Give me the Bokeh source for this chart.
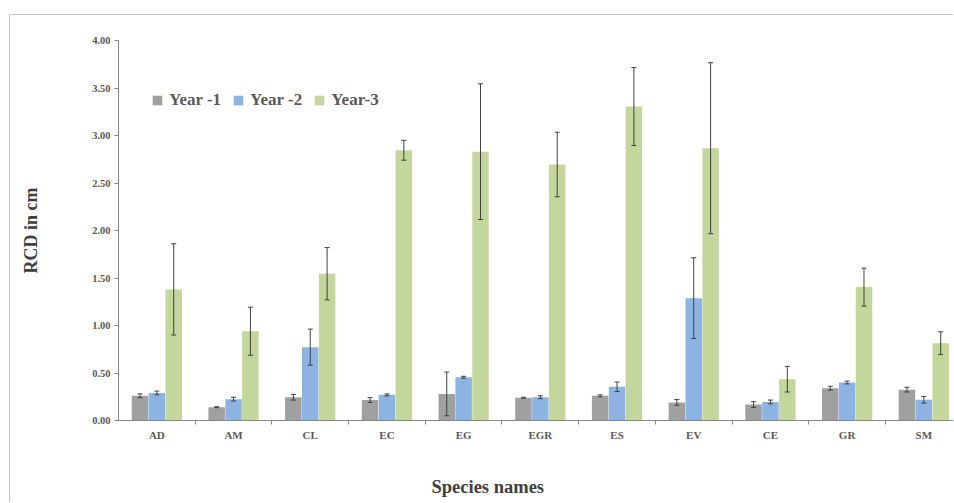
from bokeh.plotting import figure
from bokeh.models import (ColumnDataSource, Range1d, FixedTicker, SingleIntervalTicker,
                          NumeralTickFormatter, Whisker, TeeHead, Legend, LegendItem,
                          Title)
from bokeh.embed import file_html
from bokeh.resources import INLINE

species = ["AD", "AM", "CL", "EC", "EG", "EGR", "ES", "EV", "CE", "GR", "SM"]
year1 = [0.26, 0.14, 0.245, 0.215, 0.28, 0.24, 0.26, 0.19, 0.168, 0.34, 0.325]
year2 = [0.29, 0.225, 0.772, 0.27, 0.455, 0.245, 0.355, 1.288, 0.195, 0.40, 0.218]
year3 = [1.38, 0.94, 1.545, 2.845, 2.83, 2.695, 3.305, 2.866, 0.435, 1.404, 0.814]
err1 = [0.02, 0.005, 0.03, 0.025, 0.23, 0.005, 0.01, 0.03, 0.03, 0.02, 0.025]
err2 = [0.02, 0.02, 0.19, 0.01, 0.01, 0.015, 0.05, 0.425, 0.02, 0.015, 0.035]
err3 = [0.48, 0.253, 0.275, 0.105, 0.714, 0.34, 0.41, 0.90, 0.135, 0.20, 0.12]
series_names = ["Year -1", "Year -2", "Year-3"]
colors = ["#a0a0a0", "#8db3e2", "#c3d69b"]

FONT = "Liberation Serif"
n = len(species)
centers = [i + 0.5 for i in range(n)]
bounds = [float(i) for i in range(1, n)]

p = figure(width=944, height=488, output_backend="svg", toolbar_location=None,
           x_range=Range1d(0, 10.9), y_range=Range1d(0, 4),
           min_border_left=108, min_border_right=0, min_border_top=25,
           min_border_bottom=83)
p.styles = {"margin-left": "9px", "margin-top": "14px",
            "border-top": "1px solid #c4c4c4", "border-left": "1px solid #c4c4c4"}
p.outline_line_color = None
p.grid.visible = False
p.background_fill_color = "white"
p.border_fill_color = "white"

offsets = [-0.22, 0.0, 0.22]
vals = [year1, year2, year3]
errs = [err1, err2, err3]
items = []
for k in range(3):
    xs = [c + offsets[k] for c in centers]
    src = ColumnDataSource(dict(x=xs, top=vals[k],
                                upper=[v + e for v, e in zip(vals[k], errs[k])],
                                lower=[v - e for v, e in zip(vals[k], errs[k])]))
    p.vbar(x="x", top="top", width=0.215, bottom=0, source=src,
           fill_color=colors[k], line_color=None)
    w = Whisker(source=src, base="x", upper="upper", lower="lower",
                line_color="#404040", line_width=1, level="annotation",
                upper_head=TeeHead(size=5, line_color="#404040", line_width=1),
                lower_head=TeeHead(size=5, line_color="#404040", line_width=1))
    p.add_layout(w)
    r = p.scatter(x="x", y="top", source=src, marker="square", size=11,
                  fill_color=colors[k], line_color=None, visible=False)
    items.append(LegendItem(label=series_names[k], renderers=[r]))

legend = Legend(items=items, orientation="horizontal", location=(27, 307),
                label_text_font=FONT, label_text_font_style="bold",
                label_text_font_size="17px", label_text_color="#595959",
                glyph_width=24, glyph_height=26, label_standoff=0, spacing=5,
                padding=0, border_line_color=None, background_fill_alpha=0,
                inactive_fill_alpha=0)
p.add_layout(legend)

# axes
xa = p.xaxis[0]
xa.ticker = FixedTicker(ticks=centers, minor_ticks=bounds)
xa.major_label_overrides = {c: s for c, s in zip(centers, species)}
xa.major_tick_line_color = None
xa.major_tick_out = 4
xa.major_tick_in = 0
xa.minor_tick_out = 4
xa.minor_tick_in = 0
xa.minor_tick_line_color = "#868686"
xa.axis_line_color = "#868686"
xa.major_label_standoff = 4
xa.major_label_text_font = FONT
xa.major_label_text_font_style = "bold"
xa.major_label_text_font_size = "11px"
xa.major_label_text_color = "#595959"

ya = p.yaxis[0]
ya.ticker = SingleIntervalTicker(interval=0.5, num_minor_ticks=0)
ya.formatter = NumeralTickFormatter(format="0.00")
ya.major_tick_out = 4
ya.major_tick_in = 0
ya.minor_tick_line_color = None
ya.axis_line_color = "#868686"
ya.major_tick_line_color = "#868686"
ya.major_label_standoff = 4
ya.major_label_text_font = FONT
ya.major_label_text_font_style = "bold"
ya.major_label_text_font_size = "10.5px"
ya.major_label_text_color = "#595959"
ya.axis_label = "RCD in cm"
ya.axis_label_text_font = FONT
ya.axis_label_text_font_style = "bold"
ya.axis_label_text_font_size = "18px"
ya.axis_label_text_color = "#404040"
ya.axis_label_standoff = 48

t = Title(text="\nSpecies names", align="left", offset=313, vertical_align="bottom",
          standoff=0, text_font=FONT, text_font_style="bold",
          text_font_size="18.5px", text_color="#404040", text_line_height=1.55)
p.add_layout(t, "below")

open("out.html", "w").write(file_html(p, INLINE))
